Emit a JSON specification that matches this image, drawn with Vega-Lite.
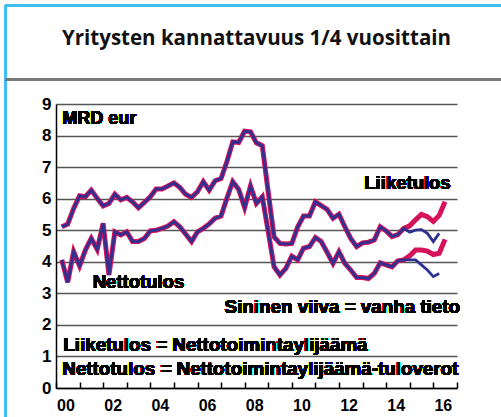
{
  "$schema": "https://vega.github.io/schema/vega-lite/v6.json",
  "width": 401,
  "height": 284,
  "autosize": {"type": "none"},
  "padding": {"left": 56, "top": 104, "right": 44, "bottom": 29},
  "background": "white",
  "title": {
    "text": "Yritysten kannattavuus 1/4 vuosittain",
    "anchor": "middle",
    "frame": "group",
    "font": "Open Sans",
    "fontWeight": 700,
    "fontSize": 20.5,
    "color": "#111111",
    "baseline": "alphabetic",
    "offset": -62
  },
  "config": {
    "view": {"stroke": null},
    "font": "Liberation Sans",
    "style": {"guide-label": {"font": "Liberation Sans", "fontWeight": "bold", "fill": "#000000"}},
    "axis": {"labelFont": "Liberation Sans", "labelFontWeight": "bold", "labelFontSize": 16, "labelColor": "#000000"},
    "axisX": {
      "labelFont": "Liberation Sans",
      "labelFontWeight": "bold",
      "labelFontSize": 16,
      "labelColor": "#000000",
      "tickCount": {"interval": "year", "step": 1},
      "labelExpr": "utcyear(datum.value) % 2 == 0 && utcyear(datum.value) < 2017 ? utcFormat(datum.value, '%y') : ''",
      "labelOffset": 9.5,
      "labelPadding": 15,
      "labelFlush": false,
      "labelOverlap": false,
      "labelBound": false,
      "labelAlign": "center",
      "labelBaseline": "top",
      "ticks": true,
      "tickSize": -6,
      "tickColor": "#000000",
      "tickWidth": 1.5,
      "domainColor": "#000000",
      "domainWidth": 1.5,
      "grid": false
    },
    "axisY": {
      "labelFont": "Liberation Sans",
      "labelFontWeight": 700,
      "labelFontSize": 17,
      "labelColor": "#000000",
      "tickCount": 9,
      "grid": true,
      "gridColor": "#555555",
      "gridWidth": 1.5,
      "ticks": false,
      "domainColor": "#000000",
      "domainWidth": 1.5,
      "labelPadding": 5,
      "labelFlush": false,
      "labelOverlap": false
    }
  },
  "data": {
    "values": [
      {"aika": "2000-03-31", "liike": 5.11, "netto": 4.06, "liike_vanha": 5.11, "netto_vanha": 4.06},
      {"aika": "2000-06-30", "liike": 5.19, "netto": 3.35, "liike_vanha": 5.19, "netto_vanha": 3.35},
      {"aika": "2000-09-30", "liike": 5.69, "netto": 4.32, "liike_vanha": 5.69, "netto_vanha": 4.32},
      {"aika": "2000-12-31", "liike": 6.09, "netto": 3.87, "liike_vanha": 6.09, "netto_vanha": 3.87},
      {"aika": "2001-03-31", "liike": 6.06, "netto": 4.37, "liike_vanha": 6.06, "netto_vanha": 4.37},
      {"aika": "2001-06-30", "liike": 6.27, "netto": 4.74, "liike_vanha": 6.27, "netto_vanha": 4.74},
      {"aika": "2001-09-30", "liike": 6.01, "netto": 4.39, "liike_vanha": 6.01, "netto_vanha": 4.39},
      {"aika": "2001-12-31", "liike": 5.77, "netto": 5.22, "liike_vanha": 5.77, "netto_vanha": 5.22},
      {"aika": "2002-03-31", "liike": 5.85, "netto": 3.58, "liike_vanha": 5.85, "netto_vanha": 3.58},
      {"aika": "2002-06-30", "liike": 6.14, "netto": 4.95, "liike_vanha": 6.14, "netto_vanha": 4.95},
      {"aika": "2002-09-30", "liike": 5.96, "netto": 4.85, "liike_vanha": 5.96, "netto_vanha": 4.85},
      {"aika": "2002-12-31", "liike": 6.04, "netto": 4.95, "liike_vanha": 6.04, "netto_vanha": 4.95},
      {"aika": "2003-03-31", "liike": 5.90, "netto": 4.64, "liike_vanha": 5.90, "netto_vanha": 4.64},
      {"aika": "2003-06-30", "liike": 5.71, "netto": 4.64, "liike_vanha": 5.71, "netto_vanha": 4.64},
      {"aika": "2003-09-30", "liike": 5.88, "netto": 4.74, "liike_vanha": 5.88, "netto_vanha": 4.74},
      {"aika": "2003-12-31", "liike": 6.06, "netto": 4.98, "liike_vanha": 6.06, "netto_vanha": 4.98},
      {"aika": "2004-03-31", "liike": 6.31, "netto": 5.00, "liike_vanha": 6.31, "netto_vanha": 5.00},
      {"aika": "2004-06-30", "liike": 6.31, "netto": 5.06, "liike_vanha": 6.31, "netto_vanha": 5.06},
      {"aika": "2004-09-30", "liike": 6.40, "netto": 5.13, "liike_vanha": 6.40, "netto_vanha": 5.13},
      {"aika": "2004-12-31", "liike": 6.50, "netto": 5.27, "liike_vanha": 6.50, "netto_vanha": 5.27},
      {"aika": "2005-03-31", "liike": 6.36, "netto": 5.11, "liike_vanha": 6.36, "netto_vanha": 5.11},
      {"aika": "2005-06-30", "liike": 6.14, "netto": 4.88, "liike_vanha": 6.14, "netto_vanha": 4.88},
      {"aika": "2005-09-30", "liike": 6.04, "netto": 4.64, "liike_vanha": 6.04, "netto_vanha": 4.64},
      {"aika": "2005-12-31", "liike": 6.22, "netto": 4.95, "liike_vanha": 6.22, "netto_vanha": 4.95},
      {"aika": "2006-03-31", "liike": 6.54, "netto": 5.06, "liike_vanha": 6.54, "netto_vanha": 5.06},
      {"aika": "2006-06-30", "liike": 6.27, "netto": 5.20, "liike_vanha": 6.27, "netto_vanha": 5.20},
      {"aika": "2006-09-30", "liike": 6.57, "netto": 5.38, "liike_vanha": 6.57, "netto_vanha": 5.38},
      {"aika": "2006-12-31", "liike": 6.64, "netto": 5.45, "liike_vanha": 6.64, "netto_vanha": 5.45},
      {"aika": "2007-03-31", "liike": 7.17, "netto": 6.01, "liike_vanha": 7.17, "netto_vanha": 6.01},
      {"aika": "2007-06-30", "liike": 7.80, "netto": 6.54, "liike_vanha": 7.80, "netto_vanha": 6.54},
      {"aika": "2007-09-30", "liike": 7.78, "netto": 6.29, "liike_vanha": 7.78, "netto_vanha": 6.29},
      {"aika": "2007-12-31", "liike": 8.14, "netto": 5.72, "liike_vanha": 8.14, "netto_vanha": 5.72},
      {"aika": "2008-03-31", "liike": 8.12, "netto": 6.40, "liike_vanha": 8.12, "netto_vanha": 6.40},
      {"aika": "2008-06-30", "liike": 7.77, "netto": 5.85, "liike_vanha": 7.77, "netto_vanha": 5.85},
      {"aika": "2008-09-30", "liike": 7.68, "netto": 6.06, "liike_vanha": 7.68, "netto_vanha": 6.06},
      {"aika": "2008-12-31", "liike": 6.20, "netto": 4.95, "liike_vanha": 6.20, "netto_vanha": 4.95},
      {"aika": "2009-03-31", "liike": 4.79, "netto": 3.84, "liike_vanha": 4.79, "netto_vanha": 3.84},
      {"aika": "2009-06-30", "liike": 4.58, "netto": 3.58, "liike_vanha": 4.58, "netto_vanha": 3.58},
      {"aika": "2009-09-30", "liike": 4.56, "netto": 3.79, "liike_vanha": 4.56, "netto_vanha": 3.79},
      {"aika": "2009-12-31", "liike": 4.58, "netto": 4.18, "liike_vanha": 4.58, "netto_vanha": 4.18},
      {"aika": "2010-03-31", "liike": 5.10, "netto": 4.06, "liike_vanha": 5.10, "netto_vanha": 4.06},
      {"aika": "2010-06-30", "liike": 5.45, "netto": 4.43, "liike_vanha": 5.45, "netto_vanha": 4.43},
      {"aika": "2010-09-30", "liike": 5.45, "netto": 4.48, "liike_vanha": 5.45, "netto_vanha": 4.48},
      {"aika": "2010-12-31", "liike": 5.90, "netto": 4.77, "liike_vanha": 5.90, "netto_vanha": 4.77},
      {"aika": "2011-03-31", "liike": 5.78, "netto": 4.64, "liike_vanha": 5.78, "netto_vanha": 4.64},
      {"aika": "2011-06-30", "liike": 5.66, "netto": 4.30, "liike_vanha": 5.66, "netto_vanha": 4.30},
      {"aika": "2011-09-30", "liike": 5.38, "netto": 3.95, "liike_vanha": 5.38, "netto_vanha": 3.95},
      {"aika": "2011-12-31", "liike": 5.51, "netto": 4.32, "liike_vanha": 5.51, "netto_vanha": 4.32},
      {"aika": "2012-03-31", "liike": 5.11, "netto": 3.95, "liike_vanha": 5.11, "netto_vanha": 3.95},
      {"aika": "2012-06-30", "liike": 4.74, "netto": 3.74, "liike_vanha": 4.74, "netto_vanha": 3.74},
      {"aika": "2012-09-30", "liike": 4.48, "netto": 3.50, "liike_vanha": 4.48, "netto_vanha": 3.50},
      {"aika": "2012-12-31", "liike": 4.60, "netto": 3.50, "liike_vanha": 4.60, "netto_vanha": 3.50},
      {"aika": "2013-03-31", "liike": 4.62, "netto": 3.47, "liike_vanha": 4.62, "netto_vanha": 3.47},
      {"aika": "2013-06-30", "liike": 4.69, "netto": 3.63, "liike_vanha": 4.69, "netto_vanha": 3.63},
      {"aika": "2013-09-30", "liike": 5.11, "netto": 3.97, "liike_vanha": 5.11, "netto_vanha": 3.97},
      {"aika": "2013-12-31", "liike": 4.98, "netto": 3.90, "liike_vanha": 4.98, "netto_vanha": 3.90},
      {"aika": "2014-03-31", "liike": 4.80, "netto": 3.84, "liike_vanha": 4.80, "netto_vanha": 3.84},
      {"aika": "2014-06-30", "liike": 4.86, "netto": 4.03, "liike_vanha": 4.86, "netto_vanha": 4.03},
      {"aika": "2014-09-30", "liike": 5.06, "netto": 4.06, "liike_vanha": 5.06, "netto_vanha": 4.06},
      {"aika": "2014-12-31", "liike": 5.14, "netto": 4.19, "liike_vanha": 4.94, "netto_vanha": 4.06},
      {"aika": "2015-03-31", "liike": 5.33, "netto": 4.37, "liike_vanha": 5.00, "netto_vanha": 4.06},
      {"aika": "2015-06-30", "liike": 5.50, "netto": 4.37, "liike_vanha": 5.02, "netto_vanha": 3.90},
      {"aika": "2015-09-30", "liike": 5.43, "netto": 4.34, "liike_vanha": 4.90, "netto_vanha": 3.74},
      {"aika": "2015-12-31", "liike": 5.28, "netto": 4.23, "liike_vanha": 4.64, "netto_vanha": 3.53},
      {"aika": "2016-03-31", "liike": 5.47, "netto": 4.27, "liike_vanha": 4.90, "netto_vanha": 3.63},
      {"aika": "2016-06-30", "liike": 5.90, "netto": 4.71, "liike_vanha": null, "netto_vanha": null}
    ]
  },
  "layer": [
    {
      "mark": {"type": "line", "color": "#d6125a", "strokeWidth": 5},
      "encoding": {
        "x": {
          "field": "aika",
          "type": "temporal",
          "title": null,
          "scale": {"type": "utc", "domain": [{"year": 2000, "month": 1, "date": 1, "utc": true}, {"year": 2017, "month": 1, "date": 1, "utc": true}]}
        },
        "y": {
          "field": "liike",
          "type": "quantitative",
          "title": null,
          "scale": {"domain": [0, 9], "nice": false, "zero": true}
        }
      }
    },
    {
      "mark": {"type": "line", "color": "#d6125a", "strokeWidth": 5},
      "encoding": {
        "x": {"field": "aika", "type": "temporal", "title": null},
        "y": {"field": "netto", "type": "quantitative", "title": null}
      }
    },
    {
      "mark": {"type": "line", "color": "#2e3192", "strokeWidth": 2.8},
      "encoding": {
        "x": {"field": "aika", "type": "temporal", "title": null},
        "y": {"field": "liike_vanha", "type": "quantitative", "title": null}
      }
    },
    {
      "mark": {"type": "line", "color": "#2e3192", "strokeWidth": 2.8},
      "encoding": {
        "x": {"field": "aika", "type": "temporal", "title": null},
        "y": {"field": "netto_vanha", "type": "quantitative", "title": null}
      }
    },
    {
      "mark": {"type": "rule", "color": "#3fbfef", "strokeWidth": 2, "clip": false},
      "encoding": {
        "x": {"datum": {"year": 1997, "month": 11, "date": 17, "utc": true}, "type": "temporal"},
        "x2": {"datum": {"year": 2019, "month": 7, "date": 1, "utc": true}},
        "y": {"datum": 12.12, "type": "quantitative"}
      }
    },
    {
      "mark": {"type": "rule", "color": "#3fbfef", "strokeWidth": 2, "clip": false},
      "encoding": {
        "x": {"datum": {"year": 1997, "month": 11, "date": 17, "utc": true}, "type": "temporal"},
        "y": {"datum": 12.15, "type": "quantitative"},
        "y2": {"datum": -1.5}
      }
    },
    {
      "mark": {"type": "rule", "color": "#7a7a7a", "strokeWidth": 2, "clip": false},
      "encoding": {
        "x": {"datum": {"year": 1997, "month": 11, "date": 17, "utc": true}, "type": "temporal"},
        "x2": {"datum": {"year": 2019, "month": 7, "date": 1, "utc": true}},
        "y": {"datum": 9.767, "type": "quantitative"}
      }
    },
    {
      "mark": {"type": "text", "text": "MRD eur", "align": "left", "baseline": "alphabetic", "fontSize": 18, "fontWeight": "bold", "font": "Liberation Sans", "color": "#000000"},
      "encoding": {
        "x": {"datum": {"year": 2000, "month": 4, "date": 8, "utc": true}, "type": "temporal"},
        "y": {"datum": 8.36, "type": "quantitative"}
      }
    },
    {
      "mark": {"type": "text", "text": "Liiketulos", "align": "right", "baseline": "alphabetic", "fontSize": 18.5, "fontWeight": "bold", "font": "Liberation Sans", "color": "#000000"},
      "encoding": {
        "x": {"datum": {"year": 2016, "month": 9, "date": 25, "utc": true}, "type": "temporal"},
        "y": {"datum": 6.3, "type": "quantitative"}
      }
    },
    {
      "mark": {"type": "text", "text": "Nettotulos", "align": "left", "baseline": "alphabetic", "fontSize": 18.5, "fontWeight": "bold", "font": "Liberation Sans", "color": "#000000"},
      "encoding": {
        "x": {"datum": {"year": 2001, "month": 7, "date": 23, "utc": true}, "type": "temporal"},
        "y": {"datum": 3.16, "type": "quantitative"}
      }
    },
    {
      "mark": {"type": "text", "text": "Sininen viiva = vanha tieto", "align": "right", "baseline": "alphabetic", "fontSize": 18.8, "fontWeight": "bold", "font": "Liberation Sans", "color": "#000000"},
      "encoding": {
        "x": {"datum": {"year": 2017, "month": 2, "date": 16, "utc": true}, "type": "temporal"},
        "y": {"datum": 2.39, "type": "quantitative"}
      }
    },
    {
      "mark": {"type": "text", "text": "Liiketulos  = Nettotoimintaylijäämä", "align": "left", "baseline": "alphabetic", "fontSize": 18.8, "fontWeight": "bold", "font": "Liberation Sans", "color": "#000000"},
      "encoding": {
        "x": {"datum": {"year": 2000, "month": 4, "date": 23, "utc": true}, "type": "temporal"},
        "y": {"datum": 1.18, "type": "quantitative"}
      }
    },
    {
      "mark": {"type": "text", "text": "Nettotulos = Nettotoimintaylijäämä-tuloverot", "align": "left", "baseline": "alphabetic", "fontSize": 18.8, "fontWeight": "bold", "font": "Liberation Sans", "color": "#000000"},
      "encoding": {
        "x": {"datum": {"year": 2000, "month": 4, "date": 8, "utc": true}, "type": "temporal"},
        "y": {"datum": 0.41, "type": "quantitative"}
      }
    }
  ]
}
